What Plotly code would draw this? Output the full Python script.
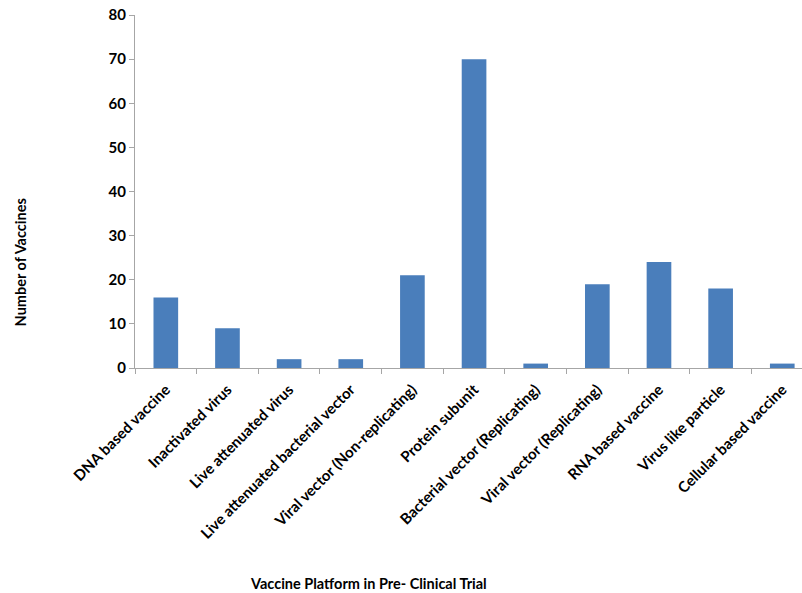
import plotly.graph_objects as go

categories = [
    "DNA based vaccine",
    "Inactivated virus",
    "Live attenuated virus",
    "Live attenuated bacterial vector",
    "Viral vector (Non-replicating)",
    "Protein subunit",
    "Bacterial vector (Replicating)",
    "Viral vector (Replicating)",
    "RNA based vaccine",
    "Virus like particle",
    "Cellular based vaccine",
]
counts = [16, 9, 2, 2, 21, 70, 1, 19, 24, 18, 1]
y_ticks = [0, 10, 20, 30, 40, 50, 60, 70, 80]

font_family = "Lato, 'Open Sans', sans-serif"

fig = go.Figure(
    go.Bar(
        x=categories,
        y=counts,
        marker=dict(color="#4a7ebb", line=dict(width=0)),
        width=0.4,
    )
)

fig.update_layout(
    width=802,
    height=593,
    margin=dict(l=135, r=0, t=15, b=225),
    plot_bgcolor="white",
    paper_bgcolor="white",
    showlegend=False,
    font=dict(family=font_family, color="black"),
)

fig.update_xaxes(
    range=[-0.5, 10.32],
    showline=True,
    linecolor="#a6a6a6",
    linewidth=1,
    ticks="outside",
    tickson="boundaries",
    ticklen=5,
    tickcolor="#a6a6a6",
    tickangle=-45,
    ticklabelstandoff=6,
    tickfont=dict(size=15, family=font_family, weight="bold"),
    showgrid=False,
    zeroline=False,
)

fig.update_yaxes(
    range=[0, 80],
    tickvals=y_ticks,
    showline=True,
    linecolor="#a6a6a6",
    linewidth=1,
    ticks="outside",
    ticklen=5,
    tickcolor="#a6a6a6",
    tickfont=dict(size=15, family=font_family, weight="bold"),
    showgrid=False,
    zeroline=False,
)

fig.add_annotation(
    text="<b>Number of Vaccines</b>",
    xref="paper", yref="paper",
    x=-0.172, y=0.3,
    xanchor="center", yanchor="middle",
    textangle=-90,
    showarrow=False,
    font=dict(size=14.5, family=font_family),
)

fig.add_annotation(
    text="<b>Vaccine Platform in Pre- Clinical Trial</b>",
    xref="paper", yref="paper",
    x=0.35, y=-0.61,
    xanchor="center", yanchor="middle",
    showarrow=False,
    font=dict(size=14.5, family=font_family),
)

fig.write_html("out.html")
